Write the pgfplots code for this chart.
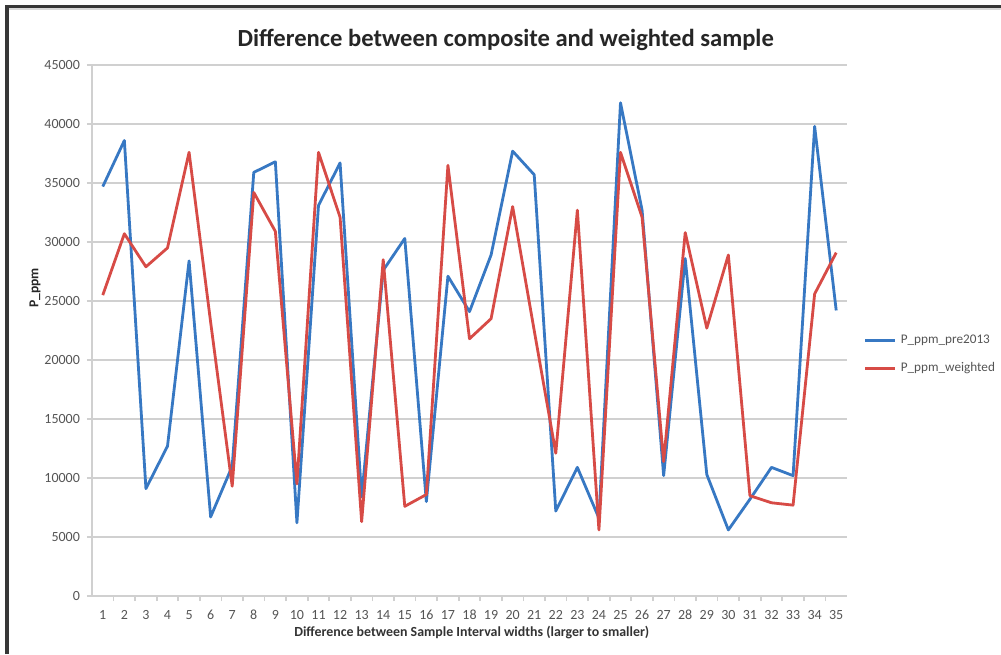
\documentclass[border=0pt]{standalone}
\usepackage{pgfplots}
\pgfplotsset{compat=1.18}
\usepackage{fontspec}
\setmainfont{Carlito}

\definecolor{precol}{RGB}{55,120,195}
\definecolor{wtdcol}{RGB}{215,75,70}
\definecolor{gridcol}{RGB}{208,208,208}
\definecolor{lblcol}{RGB}{85,85,85}
\definecolor{framecol}{RGB}{55,55,55}

\begin{document}
\begin{tikzpicture}[x=0.5pt,y=0.5pt]
\useasboundingbox (0,0) rectangle (1001,654);
\fill[white] (0,0) rectangle (1001,654);
% page frame
\draw[line width=1.6pt, framecol] (7,0) -- (7,647) -- (1001,647);
\draw[line width=1pt, black!15] (9,644.5) -- (1001,644.5);

\begin{axis}[
  at={(46pt,29pt)}, anchor=south west,
  scale only axis, width=377.5pt, height=265.5pt,
  xmin=0.5, xmax=35.5, ymin=0, ymax=45000,
  xtick={1,...,35},
  minor xtick={1.5,2.5,...,34.5},
  ytick={0,5000,...,45000},
  scaled y ticks=false,
  axis lines=left, axis line style={-, gridcol, line width=1pt},
  ymajorgrids, grid style={gridcol, line width=1pt},
  tick align=outside,
  major tick length=2.5pt, minor tick length=2.5pt,
  major x tick style={draw=none},
  minor x tick style={gridcol, line width=0.8pt},
  major y tick style={gridcol, line width=0.8pt},
  /pgf/number format/assume math mode=true,
  /pgf/number format/1000 sep={},
  tick label style={font=\fontsize{7}{8}\selectfont, text=lblcol},
  xticklabel style={yshift=-1pt},
  title={Difference between composite and weighted sample},
  title style={font=\fontsize{12.3}{14}\selectfont\bfseries, text=black!85,
    at={(axis description cs:0.548,1.053)}, anchor=center, yshift=-7.5pt},
  xlabel={Difference between Sample Interval widths (larger to smaller)},
  xlabel style={font=\fontsize{6.95}{8}\selectfont\bfseries, text=black!80,
    at={(axis description cs:0.503,-0.0697)}, anchor=center},
  ylabel={P\_ppm},
  ylabel style={font=\fontsize{6.8}{8}\selectfont\bfseries, text=black!85,
    at={(axis description cs:-0.0755,0.58)}, anchor=center},
  legend style={at={(axis description cs:1.022,0.454)}, anchor=west,
    draw=none, fill=none, font=\fontsize{6.6}{8}\selectfont, text=lblcol,
    row sep=4pt, inner sep=0pt},
  legend cell align=left,
  legend image code/.code={\draw[#1] (0pt,0pt) -- (15pt,0pt);},
  clip=false,
]
\addplot[precol, line width=1.4pt, line join=round] coordinates {
 (1,34700) (2,38600) (3,9100) (4,12700) (5,28400) (6,6700) (7,11000)
 (8,35900) (9,36800) (10,6200) (11,33100) (12,36700) (13,8400) (14,27600)
 (15,30300) (16,8000) (17,27100) (18,24100) (19,28900) (20,37700) (21,35700)
 (22,7200) (23,10900) (24,6600) (25,41800) (26,32700) (27,10200) (28,28600)
 (29,10300) (30,5600) (31,8200) (32,10900) (33,10200) (34,39800) (35,24200)
};
\addlegendentry{P\_ppm\_pre2013}
\addplot[wtdcol, line width=1.4pt, line join=round] coordinates {
 (1,25500) (2,30700) (3,27900) (4,29500) (5,37600) (6,23200) (7,9300)
 (8,34200) (9,30900) (10,9500) (11,37600) (12,32100) (13,6300) (14,28500)
 (15,7600) (16,8600) (17,36500) (18,21800) (19,23500) (20,33000) (21,22500)
 (22,12100) (23,32700) (24,5600) (25,37600) (26,32100) (27,11400) (28,30800)
 (29,22700) (30,28900) (31,8500) (32,7900) (33,7700) (34,25600) (35,29100)
};
\addlegendentry{P\_ppm\_weighted}
\end{axis}
\end{tikzpicture}
\end{document}
